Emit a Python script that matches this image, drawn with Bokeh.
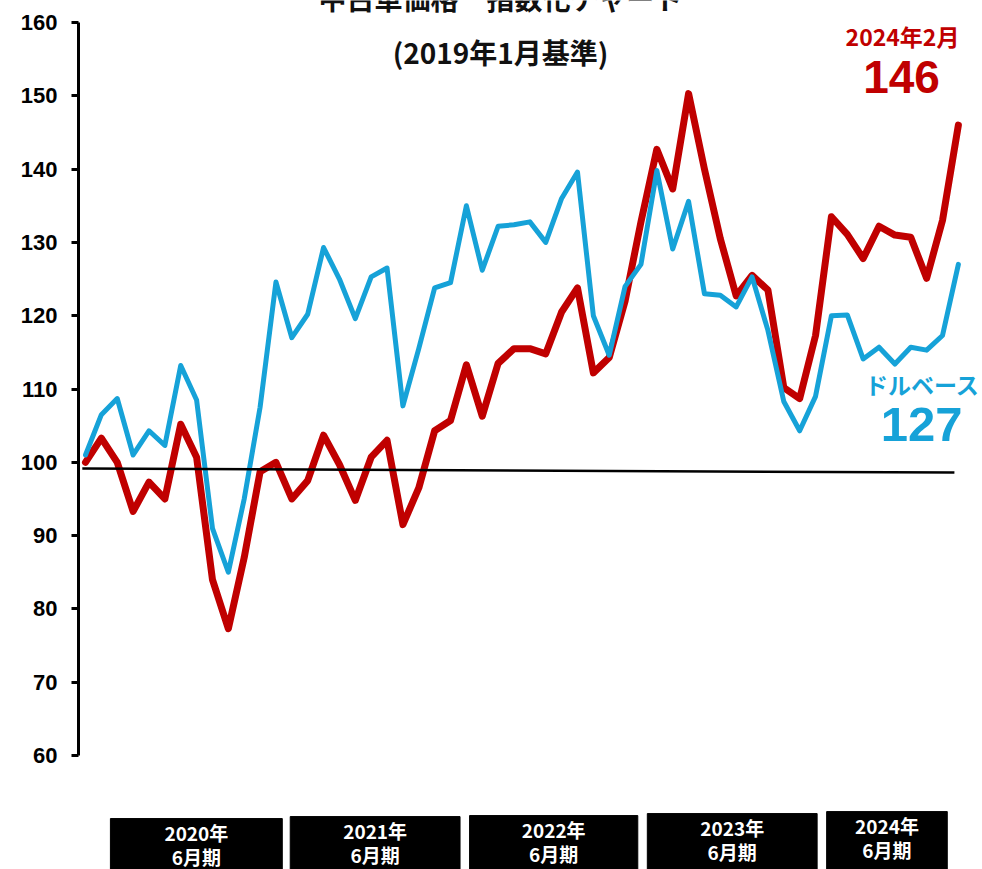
from bokeh.plotting import figure
from bokeh.models import Range1d, LinearAxis, FixedTicker
from bokeh.embed import file_html
from bokeh.resources import INLINE
from bokeh.core.properties import value

# ---- data (index 2019年1月 = 100) ----
months = list(range(56))
yen_index = [100.0, 103.3, 100.0, 93.3, 97.3, 95.0, 105.2, 100.7, 84.0, 77.3,
             87.0, 98.7, 100.0, 95.0, 97.5, 103.7, 99.7, 94.8, 100.7, 103.0,
             91.5, 96.5, 104.3, 105.7, 113.3, 106.3, 113.5, 115.5, 115.5, 114.8,
             120.5, 123.8, 112.2, 114.3, 122.0, 132.8, 142.7, 137.3, 150.3, 140.0,
             130.5, 122.7, 125.5, 123.5, 110.2, 108.7, 117.3, 133.5, 131.1, 127.8,
             132.2, 131.0, 130.7, 125.1, 133.0, 146.0]
usd_index = [101.0, 106.5, 108.7, 101.0, 104.3, 102.3, 113.2, 108.5, 91.0, 85.0,
             95.0, 107.5, 124.6, 117.0, 120.2, 129.3, 125.0, 119.6, 125.3, 126.5,
             107.7, 115.5, 123.8, 124.5, 135.0, 126.2, 132.2, 132.4, 132.8, 130.0,
             136.0, 139.6, 120.0, 114.6, 124.0, 127.0, 139.8, 129.1, 135.6, 123.0,
             122.8, 121.2, 125.3, 118.0, 108.3, 104.3, 109.0, 120.0, 120.1, 114.1,
             115.7, 113.4, 115.7, 115.3, 117.3, 127.0]
baseline_x = [-0.2, 54.75]
baseline_y = [99.15, 98.6]
y_ticks = [60, 70, 80, 90, 100, 110, 120, 130, 140, 150, 160]

fy_labels = ["2020年", "2021年", "2022年", "2023年", "2024年"]
fy_sub = ["6月期", "6月期", "6月期", "6月期", "6月期"]
fy_left = [1.57, 12.9, 24.2, 35.4, 46.7]
fy_right = [12.4, 23.6, 34.8, 46.1, 54.3]
fy_top = [51.40, 51.67, 51.81, 52.08, 52.35]

title_main = "中古車価格　指数化チャート"
title_sub = "(2019年1月基準)"
last_label = "2024年2月"
usd_label = "ドルベース"

RED = "#C00000"
BLUE = "#16A2D8"
PX = 7.33  # pixels per index point

p = figure(width=982, height=869, output_backend="svg", toolbar_location=None,
           x_range=Range1d(-0.441, 56.52), y_range=Range1d(44.45, 163.0),
           x_axis_type=None, y_axis_type=None,
           min_border_left=78, min_border_right=0, min_border_top=0, min_border_bottom=0)
p.outline_line_color = None
p.background_fill_color = "white"
p.border_fill_color = "white"

ax = LinearAxis(ticker=FixedTicker(ticks=y_ticks), bounds=(60, 160))
ax.axis_line_width = 3
ax.axis_line_color = "black"
ax.major_tick_line_width = 3
ax.major_tick_line_color = "black"
ax.major_tick_out = 7
ax.major_tick_in = 0
ax.minor_tick_out = 0
ax.minor_tick_in = 0
ax.major_label_standoff = 14
ax.major_label_text_font = "Liberation Sans"
ax.major_label_text_font_style = "bold"
ax.major_label_text_font_size = "22px"
ax.major_label_text_color = "black"
p.add_layout(ax, "left")

p.line(months, yen_index, line_color=RED, line_width=7, line_join="round", line_cap="round")
p.line(months, usd_index, line_color=BLUE, line_width=5, line_join="round", line_cap="round")
p.line(baseline_x, baseline_y, line_color="black", line_width=2.5)

cjk = value("Noto Sans CJK JP")
p.text(x=[26.15], y=[163.3], text=[title_main], text_font=cjk, text_font_style="bold",
       text_font_size="28px", text_align="center", text_baseline="middle", text_color="#111111")
p.text(x=[26.15], y=[156.04], text=[title_sub], text_font=cjk, text_font_style="bold",
       text_font_size="28px", text_align="center", text_baseline="middle", text_color="#111111")

p.text(x=[51.48], y=[158.09], text=[last_label], text_font=cjk, text_font_style="bold",
       text_font_size="23px", text_align="center", text_baseline="middle", text_color=RED)
p.text(x=[51.42], y=[152.5], text=[f"{yen_index[-1]:.0f}"], text_font=value("Liberation Sans"),
       text_font_style="bold", text_font_size="46px", text_align="center",
       text_baseline="middle", text_color=RED)
p.text(x=[52.74], y=[110.75], text=[usd_label], text_font=cjk, text_font_style="bold",
       text_font_size="23px", text_align="center", text_baseline="middle", text_color=BLUE)
p.text(x=[52.68], y=[105.16], text=[f"{usd_index[-1]:.0f}"], text_font=value("Liberation Sans"),
       text_font_style="bold", text_font_size="49px", text_align="center",
       text_baseline="middle", text_color=BLUE)

fy_bottom = [40.0] * len(fy_labels)
p.quad(left=fy_left, right=fy_right, top=fy_top, bottom=fy_bottom,
       fill_color="black", line_color="black")
fy_cx = [(l + r) / 2 for l, r in zip(fy_left, fy_right)]
fy_y1 = [t - 14 / PX for t in fy_top]
fy_y2 = [t - 38 / PX for t in fy_top]
p.text(x=fy_cx, y=fy_y1, text=fy_labels, text_font=cjk, text_font_style="bold",
       text_font_size="19px", text_align="center", text_baseline="middle", text_color="white")
p.text(x=fy_cx, y=fy_y2, text=fy_sub, text_font=cjk, text_font_style="bold",
       text_font_size="19px", text_align="center", text_baseline="middle", text_color="white")

open("out.html", "w").write(file_html(p, INLINE))
